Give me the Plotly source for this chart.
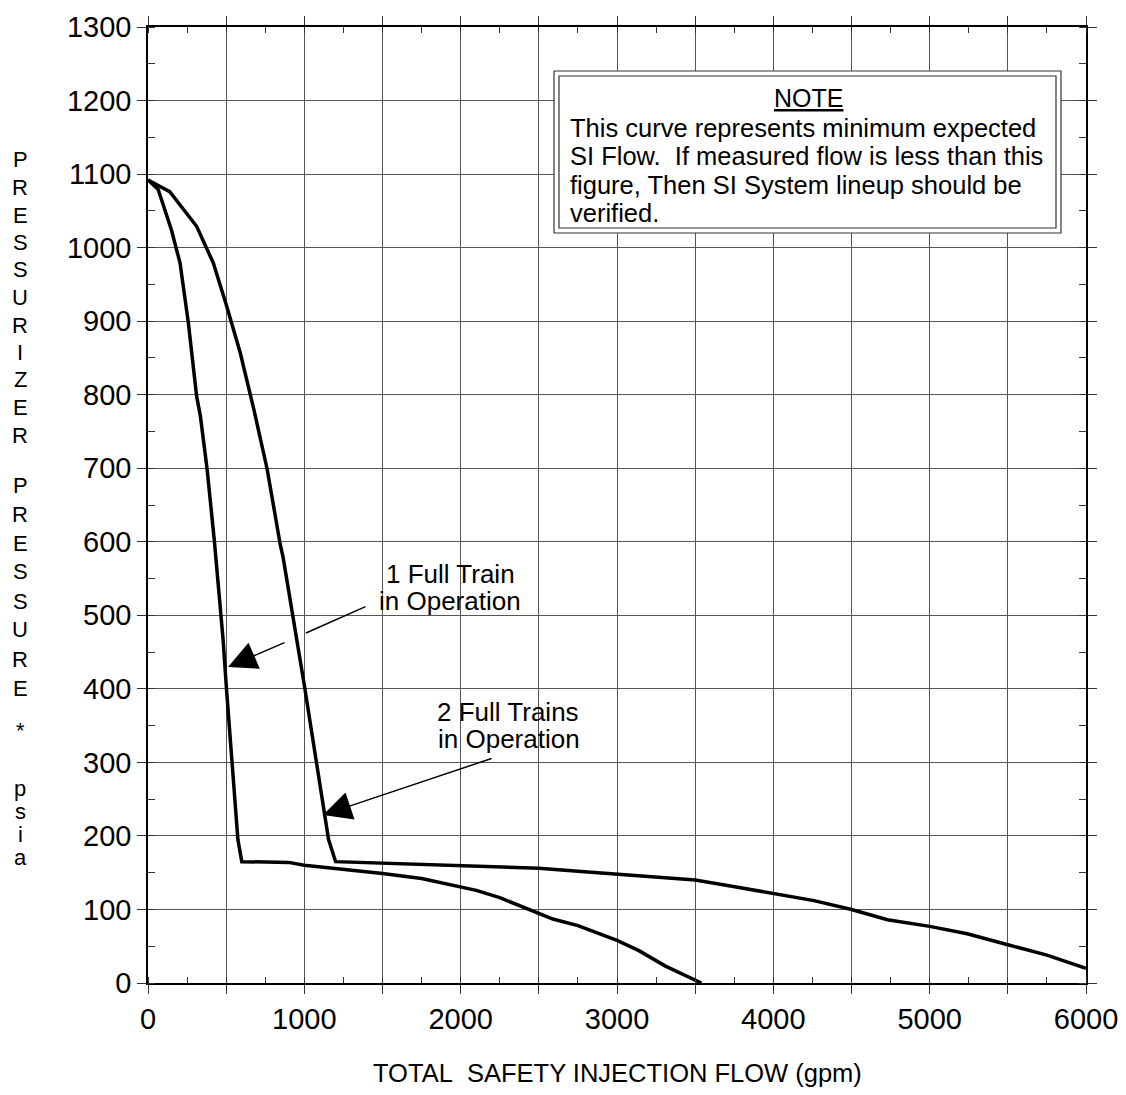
import plotly.graph_objects as go

# ---------------- data ----------------
one_train_flow = [0, 65, 150, 205, 258, 311, 335, 378, 425, 480, 502, 537, 575, 600,
                  900, 1000, 1500, 1750, 2000, 2100, 2250, 2400, 2590, 2750, 3000, 3140, 3310, 3540]
one_train_press = [1092, 1079, 1024, 979, 898, 798, 771, 699, 600, 468, 400, 303, 195, 165,
                   164, 160, 149, 142, 131, 126, 116, 103, 87, 78, 58, 44, 23, 0]

two_train_flow = [0, 139, 311, 418, 504, 590, 677, 762, 847, 864, 1000, 1072, 1155, 1200,
                  1500, 2000, 2500, 2750, 3000, 3230, 3500, 3725, 4000, 4260, 4500, 4730,
                  5000, 5240, 5500, 5750, 6000]
two_train_press = [1092, 1076, 1029, 979, 920, 857, 780, 699, 595, 579, 405, 307, 195, 165,
                   163, 159, 156, 152, 148, 144, 140, 132, 122, 112, 100, 86,
                   77, 67, 52, 38, 20]

x_tick_vals = list(range(0, 6001, 500))
x_tick_text = [str(v) if v % 1000 == 0 else "" for v in x_tick_vals]
y_tick_vals = list(range(0, 1301, 100))
y_tick_text = [str(v) for v in y_tick_vals]

y_title_word1 = list("PRESSURIZER")
y_title_word2 = list("PRESSURE")
y_title_word3 = list("psia")

note_title = "NOTE"
note_lines = [
    "This curve represents minimum expected",
    "SI Flow.\u00a0 If measured flow is less than this",
    "figure, Then SI System lineup should be",
    "verified.",
]
x_title = "TOTAL\u00a0 SAFETY INJECTION FLOW (gpm)"

# ---------------- layout helpers ----------------
OFF = 8                      # default page body margin
W, H = 1126 - OFF, 1095 - OFF
L, R, T, B = 148, 1086, 27, 983   # plot area in screenshot pixels


def px(xp):
    return (xp - L) / (R - L)


def py(yp):
    return (B - yp) / (B - T)


num_font = "Liberation Sans Narrow, Arial Narrow, Liberation Sans, Arial, sans-serif"
txt_font = "Liberation Sans, Arial, Helvetica, sans-serif"

fig = go.Figure()
for xs, ys in [(one_train_flow, one_train_press), (two_train_flow, two_train_press)]:
    fig.add_trace(go.Scatter(x=xs, y=ys, mode="lines",
                             line=dict(color="black", width=3.5),
                             hoverinfo="skip", showlegend=False))

axis_common = dict(
    showline=True, linecolor="black", linewidth=1.5, mirror="ticks",
    showgrid=True, gridcolor="#555555", gridwidth=1,
    ticks="outside", ticklen=9, tickwidth=1, tickcolor="#333333",
    zeroline=False,
    tickfont=dict(family=num_font, size=29, color="black"),
)

fig.update_layout(
    width=W, height=H,
    margin=dict(l=L - OFF, r=1126 - R, t=T - OFF, b=1095 - B, autoexpand=False),
    paper_bgcolor="white", plot_bgcolor="white",
    xaxis=dict(range=[0, 6000], tickmode="array", tickvals=x_tick_vals,
               ticktext=x_tick_text,
               minor=dict(dtick=250, tick0=0, ticks="inside", ticklen=6,
                          tickcolor="#333333", showgrid=False),
               **axis_common),
    yaxis=dict(range=[0, 1300], tickmode="array", tickvals=y_tick_vals,
               ticktext=y_tick_text,
               minor=dict(dtick=50, tick0=0, ticks="inside", ticklen=7,
                          tickcolor="#333333", showgrid=False),
               **axis_common),
)

ann = []
# vertical y title, letter by letter
for i, ch in enumerate(y_title_word1):
    ann.append(dict(x=px(20), y=py(160 + 27.5 * i), text=ch))
for i, ch in enumerate(y_title_word2):
    ann.append(dict(x=px(20), y=py(485 + 29 * i), text=ch))
ann.append(dict(x=px(20), y=py(731), text="*"))
for i, ch in enumerate(y_title_word3):
    ann.append(dict(x=px(20), y=py(788 + 23 * i), text=ch))
for a in ann:
    a.update(xref="paper", yref="paper", xanchor="center", yanchor="middle",
             showarrow=False, font=dict(family=txt_font, size=22, color="black"))

# x title
ann.append(dict(xref="paper", yref="paper", x=px(617), y=py(1073), text=x_title,
                showarrow=False, xanchor="center", yanchor="middle",
                font=dict(family=txt_font, size=25.5, color="black")))

# note box text
ann.append(dict(xref="paper", yref="paper", x=px(808), y=py(98), text="<u>" + note_title + "</u>",
                showarrow=False, xanchor="center", yanchor="middle",
                font=dict(family=txt_font, size=25, color="black")))
for i, line in enumerate(note_lines):
    ann.append(dict(xref="paper", yref="paper", x=px(568), y=py(128 + 28.3 * i), text=line,
                    showarrow=False, xanchor="left", yanchor="middle",
                    font=dict(family=txt_font, size=25.5, color="black")))

# curve labels
for (cx, cy, t) in [(450, 574, "1 Full Train"), (450, 601, "in Operation"),
                    (508, 712, "2 Full Trains"), (509, 739, "in Operation")]:
    ann.append(dict(xref="paper", yref="paper", x=px(cx), y=py(cy), text=t,
                    showarrow=False, xanchor="center", yanchor="middle",
                    font=dict(family=txt_font, size=26, color="black")))

# leader lines / arrows: (tip x, tip y, tail x, tail y, head?)  in screenshot pixels
leaders = [
    (306, 633, 367, 606, 0),   # 1 train leader, upper piece (broken where it crosses curve)
    (228, 667, 286, 642, 2),   # 1 train leader, arrow piece
    (323, 815, 493, 758, 2),   # 2 trains arrow
]
for (tx, ty, sx, sy, head) in leaders:
    ann.append(dict(x=px(tx), y=py(ty), xref="paper", yref="paper", text="",
                    showarrow=True, ax=sx - tx, ay=sy - ty,
                    arrowhead=head, arrowsize=3.8 if head else 1, arrowwidth=1.5,
                    arrowcolor="black", standoff=0))

fig.update_layout(annotations=ann)

# note box (double border)
fig.add_shape(type="rect", xref="paper", yref="paper",
              x0=px(554), x1=px(1061), y0=py(71), y1=py(233),
              line=dict(color="#333333", width=1.2), fillcolor="white", layer="above")
fig.add_shape(type="rect", xref="paper", yref="paper",
              x0=px(559), x1=px(1056), y0=py(76), y1=py(228),
              line=dict(color="#333333", width=1.2), layer="above")

fig.write_html("out.html")
